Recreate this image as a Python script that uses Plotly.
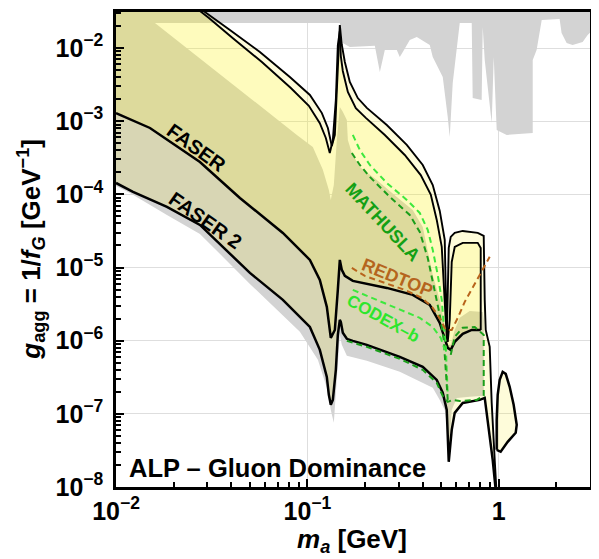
import math
import plotly.graph_objects as go

# ---------------- data (m_a in GeV, g_agg in GeV^-1) ----------------
# top grey constraint region: lower edge
t_m = [0.009, 0.1478, 0.1532, 0.1667, 0.2252, 0.2393, 0.2540, 0.2934, 0.3041, 0.3154, 0.3429, 0.3732,
       0.4362, 0.4522, 0.5100, 0.5416, 0.5547, 0.5751, 0.6257, 0.7228, 0.7311, 0.8147, 0.8250, 0.8452,
       0.9192, 0.9419, 0.9761, 1.101, 1.506, 1.506, 1.578, 1.678, 2.081, 2.131, 2.265, 2.433, 2.746, 2.916, 3.2]
t_g = [2.2e-2, 2.2e-2, 1.17e-2, 1.03e-2, 1.07e-2, 4.70e-3, 9.39e-3, 9.39e-3, 7.53e-3, 8.82e-3, 1.29e-2, 1.41e-2,
       1.10e-2, 7.53e-3, 4.02e-3, 1.14e-3, 6.08e-4, 3.32e-3, 2.2e-2, 2.2e-2, 2.07e-3, 1.95e-3, 1.94e-2, 6.85e-3,
       9.45e-4, 7.53e-3, 7.58e-4, 6.48e-4, 6.90e-4, 6.85e-3, 9.39e-3, 2.41e-2, 2.49e-2, 1.60e-2, 1.17e-2, 1.10e-2,
       1.21e-2, 1.50e-2, 1.9e-2]
t_top = 0.06

# grey band (lower-left)
b_upper_m = [0.009, 0.01598, 0.08815, 0.1068, 0.1205, 0.1295, 0.1326, 0.1375, 0.1426, 0.1478, 0.1532, 0.1608,
             0.1628, 0.1708, 0.1880, 0.2307, 0.2934, 0.3555, 0.4009, 0.4207, 0.4522, 0.4920, 0.5224, 0.5416,
             0.5614, 0.5891, 0.6257, 0.7056, 0.8250, 0.8350, 0.8350]
b_upper_g = [2.2e-2, 2.2e-2, 6.48e-4, 4.44e-4, 2.16e-4, 1.15e-4, 8.39e-5, 1.34e-4, 5.53e-4, 1.56e-3, 1.34e-3, 1.04e-3,
             5.53e-4, 3.68e-4, 2.37e-4, 1.57e-4, 9.21e-5, 6.12e-5, 3.59e-5, 1.91e-5, 7.92e-6, 3.61e-6, 1.64e-6, 8.76e-7,
             8.76e-7, 1.40e-6, 2.05e-6, 2.55e-6, 2.47e-6, 1.92e-6, 1.76e-7]
b_lower_m = [0.009, 0.01, 0.01183, 0.01846, 0.02746, 0.05009, 0.09139, 0.1135, 0.1264, 0.1326, 0.1375, 0.1426,
             0.1478, 0.1514, 0.1608, 0.2045, 0.3041, 0.4522, 0.4920, 0.5224, 0.5351, 0.5481, 0.5682, 0.6035,
             0.7056, 0.8350]
b_lower_g = [1.30e-4, 1.30e-4, 1.04e-4, 5.23e-5, 2.88e-5, 5.97e-6, 1.32e-6, 5.47e-7, 2.27e-7, 1.13e-7, 7.53e-8, 2.91e-7,
             1.20e-6, 8.76e-7, 6.20e-7, 5.30e-7, 3.75e-7, 2.27e-7, 1.55e-7, 1.13e-7, 7.07e-8, 2.75e-8, 1.13e-7, 1.65e-7,
             1.71e-7, 1.76e-7]

# FASER 2 contour
faser2_upper_m = [0.02083, 0.02916, 0.03938, 0.05649, 0.0810, 0.1031, 0.1191, 0.1280, 0.1342, 0.1392, 0.1426,
                  0.1460, 0.1478, 0.1514, 0.1570, 0.1667, 0.1835, 0.2045, 0.2601, 0.3308, 0.4009, 0.4522, 0.4920,
                  0.5224, 0.5351, 0.5481, 0.5614, 0.5891, 0.6486, 0.7769, 0.8350, 0.8452, 0.8554, 0.8974, 0.9192,
                  0.9530, 0.9761]
faser2_upper_g = [6.2e-2, 3.1e-2, 1.76e-2, 8.82e-3, 4.02e-3, 2.28e-3, 1.29e-3, 8.07e-4, 4.58e-4, 6.48e-4, 2.67e-3,
                  1.50e-2, 2.06e-2, 1.10e-2, 6.44e-3, 3.43e-3, 2.07e-3, 1.52e-3, 8.87e-4, 4.73e-4, 2.52e-4, 1.34e-4,
                  5.93e-5, 2.38e-5, 1.03e-6, 1.85e-5, 2.62e-5, 2.97e-5, 3.16e-5, 2.97e-5, 2.70e-5, 3.61e-6, 1.40e-6,
                  8.23e-7, 1.41e-7, 2.35e-8, 7.8e-9]
faser2_lower_m = [0.01, 0.01227, 0.01846, 0.02746, 0.05009, 0.07449, 0.1031, 0.1162, 0.1264, 0.1295, 0.1326, 0.1359,
                  0.1409, 0.1443, 0.1478, 0.1496, 0.1532, 0.1608, 0.1728, 0.2045, 0.3041, 0.4009, 0.4745, 0.5100,
                  0.5351, 0.5481, 0.5682, 0.5891, 0.6486, 0.7958, 0.8452, 0.8762, 0.9303, 0.9645]
faser2_lower_g = [1.43e-4, 1.08e-4, 6.73e-5, 3.82e-5, 8.44e-6, 3.61e-6, 1.54e-6, 7.49e-7, 3.20e-7, 1.82e-7, 1.33e-7,
                  1.55e-7, 3.99e-7, 1.20e-6, 1.92e-6, 1.81e-6, 1.28e-6, 1.06e-6, 9.94e-7, 8.76e-7, 6.01e-7, 4.39e-7,
                  2.91e-7, 1.94e-7, 1.13e-7, 2.21e-8, 6.04e-8, 1.03e-7, 1.41e-7, 1.55e-7, 1.65e-7, 8.28e-8, 2.35e-8,
                  9.15e-9]
lobe_m = [0.9761, 0.9761, 0.9880, 1.012, 1.049, 1.088, 1.141, 1.197, 1.242, 1.227, 1.114, 1.024, 0.9761]
lobe_g = [3.22e-8, 8.28e-8, 1.82e-7, 2.91e-7, 3.75e-7, 3.52e-7, 2.34e-7, 1.33e-7, 7.07e-8, 5.50e-8, 4.14e-8,
          3.03e-8, 3.22e-8]

# FASER contour
faser_upper_m = [0.02185, 0.03059, 0.04083, 0.05786, 0.08198, 0.1018, 0.1162, 0.1249, 0.1310, 0.1359, 0.1409,
                 0.1443, 0.1478, 0.1496, 0.1532, 0.1628, 0.1792, 0.2021, 0.2540, 0.3229, 0.3914, 0.4415, 0.4745,
                 0.5039, 0.5287, 0.5416, 0.5547, 0.5682, 0.5891, 0.6486, 0.7769, 0.8054, 0.8054]
faser_upper_g = [5.13e-2, 2.57e-2, 1.36e-2, 6.44e-3, 2.84e-3, 1.62e-3, 9.40e-4, 5.90e-4, 3.67e-4, 5.53e-4, 1.95e-3,
                 1.10e-2, 1.70e-2, 7.76e-3, 4.85e-3, 2.51e-3, 1.51e-3, 1.11e-3, 6.47e-4, 3.45e-4, 1.83e-4, 9.90e-5,
                 4.47e-5, 1.91e-5, 1.92e-6, 9.63e-7, 1.92e-6, 1.19e-5, 1.91e-5, 2.17e-5, 2.17e-5, 1.85e-5, 1.40e-6]
faser_lower_m = [0.01, 0.01227, 0.01505, 0.02746, 0.04441, 0.07449, 0.1031, 0.1162, 0.1264, 0.1326, 0.1392, 0.1443,
                 0.1478, 0.1514, 0.1570, 0.1728, 0.2601, 0.3555, 0.4362, 0.4920, 0.5224, 0.5416, 0.5614, 0.5891,
                 0.6486, 0.7228, 0.8054]
faser_lower_g = [1.29e-3, 1.01e-3, 8.07e-4, 2.77e-4, 8.93e-5, 2.97e-5, 1.27e-5, 6.77e-6, 2.90e-6, 1.09e-6, 1.40e-6,
                 4.94e-6, 1.27e-5, 9.27e-6, 7.68e-6, 6.56e-6, 5.26e-6, 4.22e-6, 3.08e-6, 1.75e-6, 1.09e-6, 7.97e-7,
                 7.49e-7, 9.63e-7, 1.24e-6, 1.40e-6, 1.40e-6]
upper_corner_m, upper_corner_g = 0.01, 6.2e-2

# other experiments (dashed)
mathusla_a_m = [0.1708, 0.1880, 0.2121, 0.2697, 0.3429, 0.3868, 0.4258, 0.4632, 0.4920, 0.5161, 0.5287, 0.5416]
mathusla_a_g = [3.68e-4, 2.52e-4, 1.73e-4, 9.21e-5, 5.23e-5, 3.06e-5, 1.35e-5, 4.94e-6, 2.25e-6, 1.03e-6, 3.99e-7, 1.55e-7]
mathusla_b_m = [0.1608, 0.2045, 0.3041, 0.4009, 0.4745, 0.5100, 0.5416, 0.5751, 0.6257, 0.7676, 0.8350, 0.8350,
                0.7494, 0.6486, 0.5891, 0.5614]
mathusla_b_g = [9.94e-7, 8.23e-7, 5.64e-7, 3.99e-7, 2.65e-7, 1.76e-7, 1.46e-7, 1.55e-7, 1.50e-7, 1.55e-7, 1.76e-7,
                1.20e-6, 1.54e-6, 1.50e-6, 1.13e-6, 6.40e-7]
bright_m = [0.1728, 0.1880, 0.2121, 0.2601, 0.3308, 0.3868, 0.4258, 0.4522, 0.4802, 0.5039, 0.5161, 0.5287, 0.5351, 0.5416]
bright_g = [6.48e-4, 4.04e-4, 2.52e-4, 1.43e-4, 8.39e-5, 5.57e-5, 3.26e-5, 1.74e-5, 7.92e-6, 3.61e-6, 1.64e-6,
            8.76e-7, 3.99e-7, 1.82e-7]
codexb_m = [0.1728, 0.2307, 0.3041, 0.3868, 0.4522, 0.4979, 0.5224]
codexb_g = [4.94e-6, 3.61e-6, 2.72e-6, 2.05e-6, 1.54e-6, 1.09e-6, 7.49e-7]
redtop_m = [0.1708, 0.1997, 0.2540, 0.3229, 0.3962, 0.4522, 0.4979, 0.5287, 0.5682, 0.6108, 0.6645, 0.7228, 0.7958, 0.8974]
redtop_g = [9.88e-6, 7.68e-6, 6.16e-6, 4.94e-6, 3.84e-6, 2.81e-6, 1.92e-6, 1.40e-6, 1.40e-6, 2.05e-6, 3.39e-6,
            4.94e-6, 7.92e-6, 1.40e-5]

labels = ["FASER", "FASER 2", "MATHUSLA", "REDTOP", "CODEX\u2013b"]
label_m = [0.0265, 0.0292, 0.2477, 0.2972, 0.2477]
label_g = [4.31e-4, 4.47e-5, 4.2e-5, 7.21e-6, 1.99e-6]
label_angle = [36, 35, 47, 22, 29]
label_color = ["black", "black", "#14a014", "#b5651d", "#2ee62e"]
label_size = [20, 20, 18, 18, 17]

x_ticks = [0.01, 0.1, 1]
x_ticktext = ["10<sup>\u22122</sup>", "10<sup>\u22121</sup>", "1"]
y_ticks = [1e-8, 1e-7, 1e-6, 1e-5, 1e-4, 1e-3, 1e-2]
y_ticktext = ["10<sup>\u2212%d</sup>" % k for k in [8, 7, 6, 5, 4, 3, 2]]

GREY = "#d3d3d3"
FONT = "Liberation Sans"

fig = go.Figure()

def fill(xs, ys, color):
    fig.add_trace(go.Scatter(x=xs, y=ys, mode="lines", fill="toself", fillcolor=color,
                             line=dict(width=0), hoverinfo="skip", showlegend=False))

def line(xs, ys, color, width=2.5, dash="solid"):
    fig.add_trace(go.Scatter(x=xs, y=ys, mode="lines", line=dict(color=color, width=width, dash=dash),
                             hoverinfo="skip", showlegend=False))

# grey regions
fill([t_m[0]] + t_m + [t_m[-1]], [t_top] + t_g + [t_top], GREY)
fill(b_upper_m + b_lower_m[::-1], b_upper_g + b_lower_g[::-1], GREY)

# FASER 2 region
fill([upper_corner_m] + faser2_upper_m + faser2_lower_m[::-1],
     [upper_corner_g] + faser2_upper_g + faser2_lower_g[::-1], "rgba(250,238,10,0.15)")
fill(lobe_m, lobe_g, "rgba(250,238,10,0.15)")
# FASER region
fill([upper_corner_m] + faser_upper_m + faser_lower_m[::-1],
     [upper_corner_g] + faser_upper_g + faser_lower_g[::-1], "rgba(255,246,0,0.13)")

# contour lines
line(faser2_upper_m, faser2_upper_g, "black", 1.9)
line(faser2_lower_m, faser2_lower_g, "black")
line(lobe_m, lobe_g, "black")
line(faser_upper_m, faser_upper_g, "black", 1.9)
line(faser_lower_m, faser_lower_g, "black")

# dashed sensitivities
line(bright_m, bright_g, "#3ee83e", 2, "6px,4px")
line(mathusla_a_m, mathusla_a_g, "#1a9e1a", 2, "6px,4px")
line(mathusla_b_m, mathusla_b_g, "#1a9e1a", 2, "6px,4px")
line(codexb_m, codexb_g, "#3ee83e", 2, "6px,4px")
line(redtop_m, redtop_g, "#b8641c", 2, "6px,4px")

for txt, m, g, ang, col, sz in zip(labels, label_m, label_g, label_angle, label_color, label_size):
    fig.add_annotation(x=math.log10(m), y=math.log10(g), xref="x", yref="y", text="<b>%s</b>" % txt,
                       showarrow=False, textangle=ang, font=dict(family=FONT, size=sz, color=col))

fig.add_annotation(x=0.023, y=0.04, xref="paper", yref="paper", xanchor="left", yanchor="middle",
                   text="<b>ALP \u2013 Gluon Dominance</b>", showarrow=False,
                   font=dict(family=FONT, size=25.5, color="black"))
fig.add_annotation(x=-0.181, y=0.5, xref="paper", yref="paper", xanchor="center", yanchor="middle",
                   textangle=-90, showarrow=False,
                   text="<b><i>g</i><sub>agg</sub> = 1/<i>f</i><sub><i>G</i></sub> [GeV<sup>\u22121</sup>]</b>",
                   font=dict(family=FONT, size=26, color="black"))
fig.add_annotation(x=0.497, y=-0.112, xref="paper", yref="paper", xanchor="center", yanchor="middle",
                   showarrow=False, text="<b><i>m</i><sub><i>a</i></sub> [GeV]</b>",
                   font=dict(family=FONT, size=26, color="black"))

minor_x = [k * 10.0 ** e for e in (-2, -1, 0) for k in range(2, 10) if k * 10.0 ** e < 3]
minor_y = [k * 10.0 ** e for e in range(-8, -1) for k in range(2, 10)]

axis_common = dict(type="log", tickmode="array", ticks="inside", ticklen=8, tickwidth=2, tickcolor="black",
                   showline=True, linecolor="black", linewidth=2.5, mirror=True, automargin=False,
                   showgrid=True, gridcolor="#dedede", gridwidth=1, zeroline=False,
                   tickfont=dict(family=FONT, size=25, color="black", weight="bold"))
fig.update_xaxes(range=[-2, 0.4771], tickvals=x_ticks, ticktext=x_ticktext,
                 minor=dict(tickmode="array", tickvals=minor_x, ticks="inside", ticklen=5, tickwidth=1.5,
                            tickcolor="black", showgrid=False), **axis_common)
fig.update_yaxes(range=[-8, -1.508], tickvals=y_ticks, ticktext=y_ticktext, ticklabelstandoff=5,
                 minor=dict(tickmode="array", tickvals=minor_y, ticks="inside", ticklen=5, tickwidth=1.5,
                            tickcolor="black", showgrid=False), **axis_common)

# the page adds an 8px body margin, so the plot area is offset accordingly
fig.update_layout(width=599, height=559, margin=dict(l=108, r=17, t=4, b=80),
                  plot_bgcolor="white", paper_bgcolor="white", showlegend=False)

fig.write_html("out.html")
